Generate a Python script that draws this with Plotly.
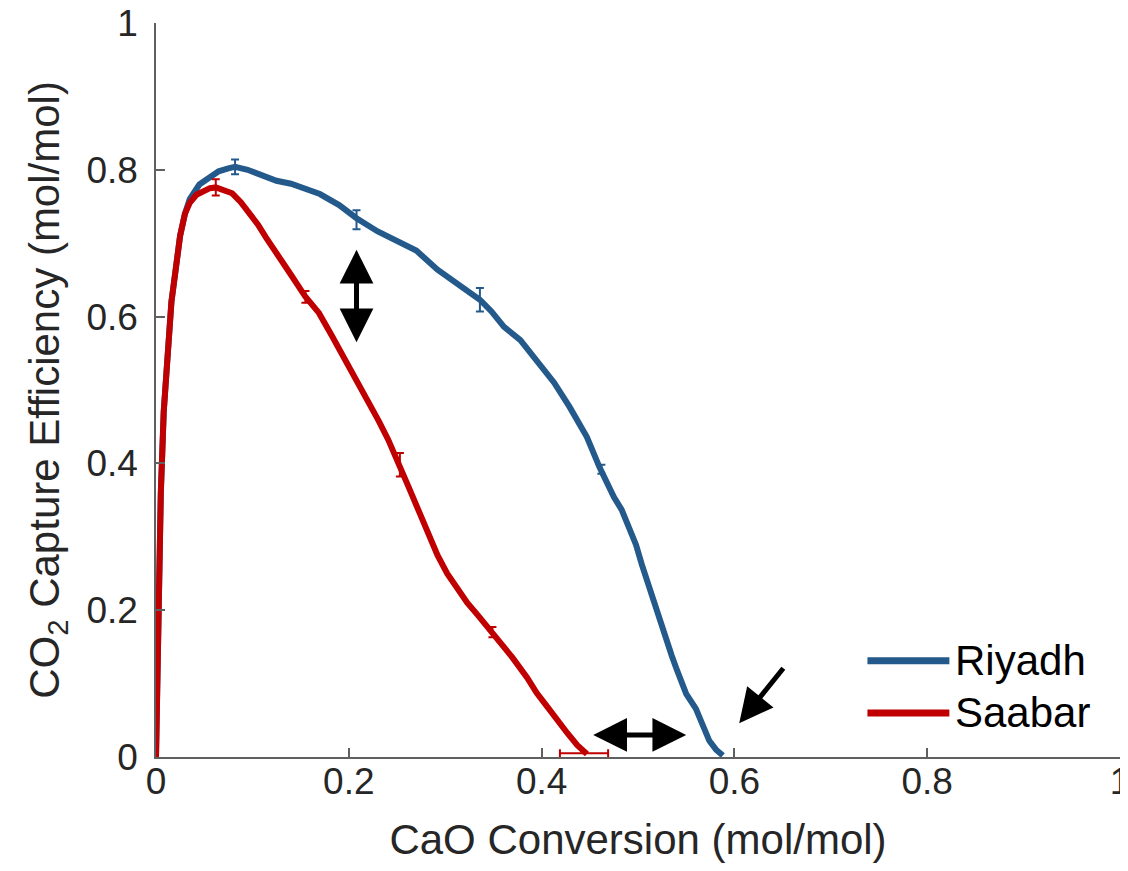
import plotly.graph_objects as go

# ---------------- data ----------------
riyadh_x = [0, 0.002, 0.005, 0.008, 0.012, 0.016, 0.02, 0.025, 0.03, 0.035, 0.045, 0.055,
            0.065, 0.075, 0.082, 0.095, 0.11, 0.125, 0.14, 0.155, 0.17, 0.19, 0.208, 0.23,
            0.25, 0.27, 0.292, 0.31, 0.325, 0.336, 0.348, 0.361, 0.378, 0.395, 0.413, 0.429,
            0.447, 0.46, 0.475, 0.483, 0.491, 0.498, 0.504, 0.509, 0.514, 0.519, 0.524, 0.529,
            0.535, 0.54, 0.545, 0.55, 0.56, 0.567, 0.574, 0.581, 0.588]
riyadh_y = [0, 0.2, 0.36, 0.47, 0.56, 0.62, 0.66, 0.71, 0.74, 0.76, 0.78, 0.79,
            0.798, 0.802, 0.804, 0.8, 0.792, 0.785, 0.781, 0.775, 0.767, 0.752, 0.734, 0.716,
            0.704, 0.69, 0.664, 0.648, 0.634, 0.623, 0.607, 0.586, 0.568, 0.541, 0.51, 0.477,
            0.436, 0.395, 0.354, 0.337, 0.312, 0.289, 0.262, 0.241, 0.222, 0.2, 0.18, 0.159,
            0.138, 0.12, 0.1, 0.086, 0.066, 0.045, 0.022, 0.01, 0.002]

saabar_x = [0, 0.002, 0.005, 0.008, 0.012, 0.016, 0.02, 0.025, 0.03, 0.035, 0.042, 0.05,
            0.056, 0.062, 0.07, 0.079, 0.088, 0.097, 0.106, 0.114, 0.121, 0.128, 0.141, 0.155,
            0.169, 0.182, 0.195, 0.208, 0.22, 0.231, 0.241, 0.253, 0.262, 0.272, 0.282, 0.292,
            0.302, 0.313, 0.323, 0.334, 0.349, 0.36, 0.37, 0.385, 0.395, 0.405, 0.416, 0.427,
            0.437, 0.447]
saabar_y = [0, 0.2, 0.36, 0.47, 0.56, 0.62, 0.66, 0.71, 0.74, 0.755, 0.766, 0.772,
            0.775, 0.776, 0.773, 0.768, 0.756, 0.741, 0.725, 0.708, 0.695, 0.681, 0.655, 0.627,
            0.605, 0.575, 0.545, 0.515, 0.486, 0.458, 0.432, 0.398, 0.368, 0.337, 0.305, 0.275,
            0.25, 0.228, 0.21, 0.193, 0.17, 0.152, 0.135, 0.108, 0.087, 0.07, 0.05, 0.032,
            0.016, 0.004]

# error bars (subset of measurement points)
riyadh_err_x = [0.082, 0.208, 0.336, 0.462]
riyadh_err_y = [0.804, 0.732, 0.623, 0.392]
riyadh_err = [0.010, 0.013, 0.016, 0.006]

saabar_err_x = [0.062, 0.155, 0.253, 0.349]
saabar_err_y = [0.776, 0.627, 0.398, 0.170]
saabar_err = [0.011, 0.008, 0.016, 0.007]

saabar_end_x = [0.444]
saabar_end_y = [0.005]
saabar_end_xerr = [0.025]

tick_vals = [0, 0.2, 0.4, 0.6, 0.8, 1]
tick_text = ["0", "0.2", "0.4", "0.6", "0.8", "1"]

BLUE = "#245A8B"
RED = "#C00000"
AXC = "#606060"
TXT = "#262626"
FONT = "Liberation Sans, Arial, sans-serif"

fig = go.Figure()

fig.add_trace(go.Scatter(x=riyadh_x, y=riyadh_y, mode="lines", name="Riyadh",
                         line=dict(color=BLUE, width=6), cliponaxis=False, showlegend=False))
fig.add_trace(go.Scatter(x=saabar_x, y=saabar_y, mode="lines", name="Saabar",
                         line=dict(color=RED, width=6), cliponaxis=False, showlegend=False))

fig.add_trace(go.Scatter(x=riyadh_err_x, y=riyadh_err_y, mode="markers", showlegend=False,
                         marker=dict(size=1, color=BLUE), cliponaxis=False,
                         error_y=dict(type="data", array=riyadh_err, color=BLUE, thickness=2, width=4)))
fig.add_trace(go.Scatter(x=saabar_err_x, y=saabar_err_y, mode="markers", showlegend=False,
                         marker=dict(size=1, color=RED), cliponaxis=False,
                         error_y=dict(type="data", array=saabar_err, color=RED, thickness=2, width=4)))
fig.add_trace(go.Scatter(x=saabar_end_x, y=saabar_end_y, mode="markers", showlegend=False,
                         marker=dict(size=1, color=RED), cliponaxis=False,
                         error_x=dict(type="data", array=saabar_end_xerr, color=RED, thickness=2, width=4)))

# arrows
arrow_common = dict(xref="x", yref="y", axref="x", ayref="y", text="", showarrow=True,
                    arrowcolor="black", arrowwidth=5, arrowsize=1.35, arrowhead=2)
# vertical double arrow
fig.add_annotation(x=0.208, y=0.565, ax=0.208, ay=0.693, arrowside="end+start",
                   startarrowhead=2, startarrowsize=1.35, **arrow_common)
# horizontal double arrow
fig.add_annotation(x=0.550, y=0.030, ax=0.452, ay=0.030, arrowside="end+start",
                   startarrowhead=2, startarrowsize=1.35, **arrow_common)
# single arrow pointing at Riyadh endpoint
fig.add_annotation(x=0.605, y=0.046, ax=0.652, ay=0.123, **arrow_common)

# custom legend
legend_items = [("Riyadh", BLUE, 0.131), ("Saabar", RED, 0.060)]
for name, col, yy in legend_items:
    fig.add_shape(type="line", xref="paper", yref="paper", x0=0.738, x1=0.823, y0=yy, y1=yy,
                  line=dict(color=col, width=7))
    fig.add_annotation(xref="paper", yref="paper", x=0.827, y=yy, text=name, showarrow=False,
                       xanchor="left", yanchor="middle", font=dict(size=42, color="black", family=FONT))

axis_common = dict(range=[0, 1], tickvals=tick_vals, ticktext=tick_text, ticks="inside",
                   ticklen=9, tickwidth=1.5, tickcolor=AXC, showline=True, linecolor=AXC,
                   linewidth=1.5, mirror=False, showgrid=False, zeroline=False,
                   ticklabeloverflow="allow",
                   tickfont=dict(size=37, color=TXT, family=FONT), automargin=False)

fig.update_layout(
    width=1112, height=855,
    margin=dict(l=148, r=0, t=15, b=106),
    paper_bgcolor="white", plot_bgcolor="white",
    font=dict(family=FONT, color=TXT),
    xaxis=dict(title=dict(text="CaO Conversion (mol/mol)", font=dict(size=42, color=TXT), standoff=32),
               ticklabelstandoff=-9, **axis_common),
    yaxis=dict(title=dict(text="CO<sub>2</sub> Capture Efficiency (mol/mol)", font=dict(size=42, color=TXT),
                          standoff=14),
               ticklabelstandoff=9, **axis_common),
)

fig.write_html("out.html")
